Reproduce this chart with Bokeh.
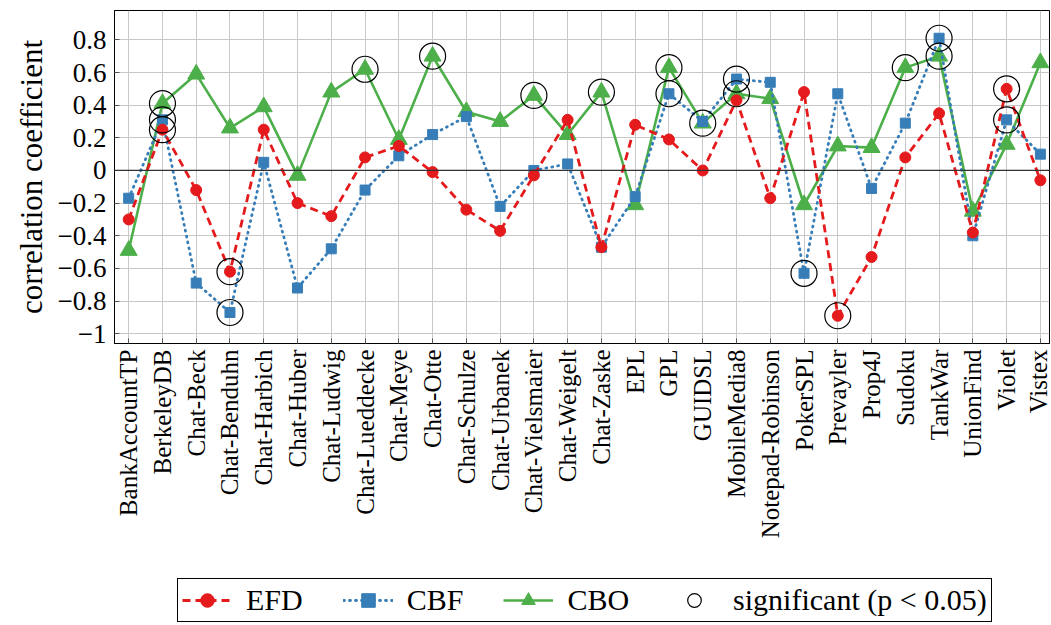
from bokeh.plotting import figure
from bokeh.layouts import column
from bokeh.models import (Span, Legend, LegendItem, FixedTicker, Range1d,
                          ColumnDataSource)
from bokeh.embed import file_html
from bokeh.resources import INLINE
import math

projects = ["BankAccountTP", "BerkeleyDB", "Chat-Beck", "Chat-Benduhn", "Chat-Harbich",
            "Chat-Huber", "Chat-Ludwig", "Chat-Lueddecke", "Chat-Meye", "Chat-Otte",
            "Chat-Schulze", "Chat-Urbanek", "Chat-Vielsmaier", "Chat-Weigelt", "Chat-Zaske",
            "EPL", "GPL", "GUIDSL", "MobileMedia8", "Notepad-Robinson", "PokerSPL",
            "Prevayler", "Prop4J", "Sudoku", "TankWar", "UnionFind", "Violet", "Vistex"]

efd = [-0.30, 0.25, -0.12, -0.62, 0.25, -0.20, -0.28, 0.08, 0.15, -0.01,
       -0.24, -0.37, -0.03, 0.31, -0.47, 0.28, 0.19, 0.00, 0.43, -0.17,
       0.48, -0.89, -0.53, 0.08, 0.35, -0.38, 0.50, -0.06]
cbf = [-0.17, 0.31, -0.69, -0.87, 0.05, -0.72, -0.48, -0.12, 0.09, 0.22,
       0.33, -0.22, 0.00, 0.04, -0.47, -0.16, 0.47, 0.30, 0.56, 0.54,
       -0.63, 0.47, -0.11, 0.29, 0.81, -0.40, 0.31, 0.10]
cbo = [-0.49, 0.41, 0.59, 0.26, 0.39, -0.03, 0.48, 0.62, 0.19, 0.70,
       0.36, 0.30, 0.46, 0.22, 0.48, -0.21, 0.63, 0.29, 0.47, 0.44,
       -0.21, 0.15, 0.14, 0.63, 0.70, -0.25, 0.16, 0.66]

# significant correlations (p < 0.05): project indices per metric
sig_efd = [1, 3, 21, 26]
sig_cbf = [1, 3, 16, 18, 20, 24, 26]
sig_cbo = [1, 7, 9, 12, 14, 16, 17, 18, 23, 24]

y_ticks = [-1.0, -0.8, -0.6, -0.4, -0.2, 0.0, 0.2, 0.4, 0.6, 0.8]
y_tick_labels = ["\u22121", "\u22120.8", "\u22120.6", "\u22120.4", "\u22120.2",
                 "0", "0.2", "0.4", "0.6", "0.8"]

RED = "#e41a1c"
BLUE = "#377eb8"
GREEN = "#4daf4a"
FONT = "Liberation Serif"

EFD_STYLE = dict(line_color=RED, line_width=2.8, line_dash="8 5")
CBF_STYLE = dict(line_color=BLUE, line_width=2.8, line_dash="1 5", line_cap="round")
CBO_STYLE = dict(line_color=GREEN, line_width=2.6)
EFD_MARK = dict(marker="circle", size=11, fill_color=RED, line_color=RED)
CBF_MARK = dict(marker="square", size=10, fill_color=BLUE, line_color=BLUE)
CBO_MARK = dict(marker="triangle", size=17, fill_color=GREEN, line_color=GREEN)
SIG_MARK = dict(marker="circle", size=26, fill_color=None, line_color="black",
                line_width=1.2)

xs = list(range(len(projects)))

p = figure(frame_width=935, frame_height=333, output_backend="svg",
           toolbar_location=None,
           x_range=Range1d(-0.42, 27.27), y_range=Range1d(-1.06, 0.98),
           min_border_left=114, min_border_right=2, min_border_top=10,
           min_border_bottom=229)
p.background_fill_color = "white"
p.outline_line_color = "black"
p.outline_line_width = 1

# grid
p.xgrid.ticker = FixedTicker(ticks=xs)
p.ygrid.ticker = FixedTicker(ticks=y_ticks)
for g in (p.xgrid, p.ygrid):
    g.grid_line_color = "#c8c8c8"
    g.grid_line_width = 1

# axes
xa = p.xaxis[0]
xa.ticker = FixedTicker(ticks=xs)
xa.major_label_overrides = {i: name for i, name in enumerate(projects)}
xa.major_label_orientation = math.pi / 2
xa.major_label_text_font_size = "25px"
xa.major_label_standoff = 6
ya = p.yaxis[0]
ya.ticker = FixedTicker(ticks=y_ticks)
ya.major_label_overrides = dict(zip(y_ticks, y_tick_labels))
ya.major_label_text_font_size = "27px"
ya.major_label_standoff = 8
ya.axis_label = "correlation coefficient"
for ax in (xa, ya):
    ax.major_label_text_font = FONT
    ax.major_label_text_color = "black"
    ax.axis_line_color = "black"
    ax.major_tick_in = 5
    ax.major_tick_out = 0
    ax.major_tick_line_color = "#555555"
    ax.minor_tick_line_color = None
ya.axis_label_text_font = FONT
ya.axis_label_text_font_size = "31px"
ya.axis_label_text_font_style = "normal"
ya.axis_label_text_color = "black"
ya.axis_label_standoff = 6

# zero line
p.add_layout(Span(location=0, dimension="width", line_color="#333333", line_width=1.2))

src = ColumnDataSource(dict(x=xs, efd=efd, cbf=cbf, cbo=cbo))

p.line("x", "cbo", source=src, **CBO_STYLE)
p.scatter("x", "cbo", source=src, **CBO_MARK)
p.line("x", "cbf", source=src, **CBF_STYLE)
p.scatter("x", "cbf", source=src, **CBF_MARK)
p.line("x", "efd", source=src, **EFD_STYLE)
p.scatter("x", "efd", source=src, **EFD_MARK)

sig_x = list(sig_efd) + list(sig_cbf) + list(sig_cbo)
sig_y = [efd[i] for i in sig_efd] + [cbf[i] for i in sig_cbf] + [cbo[i] for i in sig_cbo]
p.scatter(sig_x, sig_y, **SIG_MARK)

# legend strip under the chart; its key renderers are hidden stand-ins
# styled like the series (the legend still draws their glyphs)
lg = figure(frame_width=1051, frame_height=53, output_backend="svg",
            toolbar_location=None, x_range=Range1d(0, 1), y_range=Range1d(0, 1),
            x_axis_location=None, y_axis_location=None, min_border=0)
lg.outline_line_color = None
lg.xgrid.visible = False
lg.ygrid.visible = False
key_src = ColumnDataSource(dict(x=[0.5, 0.6], y=[0.5, 0.5]))
keys = {}
for name, style, glyph in [("efd_l", EFD_STYLE, "line"), ("efd_m", EFD_MARK, "scatter"),
                           ("cbf_l", CBF_STYLE, "line"), ("cbf_m", CBF_MARK, "scatter"),
                           ("cbo_l", CBO_STYLE, "line"), ("cbo_m", CBO_MARK, "scatter"),
                           ("sig", SIG_MARK, "scatter")]:
    r = getattr(lg, glyph)("x", "y", source=key_src, **style)
    r.visible = False
    keys[name] = r

legend = Legend(items=[
    LegendItem(label="EFD", renderers=[keys["efd_l"], keys["efd_m"]]),
    LegendItem(label="CBF", renderers=[keys["cbf_l"], keys["cbf_m"]]),
    LegendItem(label="CBO", renderers=[keys["cbo_l"], keys["cbo_m"]]),
    LegendItem(label="significant (p < 0.05)", renderers=[keys["sig"]]),
], orientation="horizontal", location=(177, 3))
legend.label_text_font = FONT
legend.label_text_font_size = "30px"
legend.label_text_color = "black"
legend.label_standoff = 14
legend.glyph_width = 50
legend.glyph_height = 34
legend.spacing = 40
legend.padding = 4
legend.margin = 0
legend.border_line_color = "black"
legend.border_line_width = 1
legend.border_line_alpha = 1
lg.add_layout(legend, "center")

open("out.html", "w").write(file_html(column(p, lg, spacing=0), INLINE))
